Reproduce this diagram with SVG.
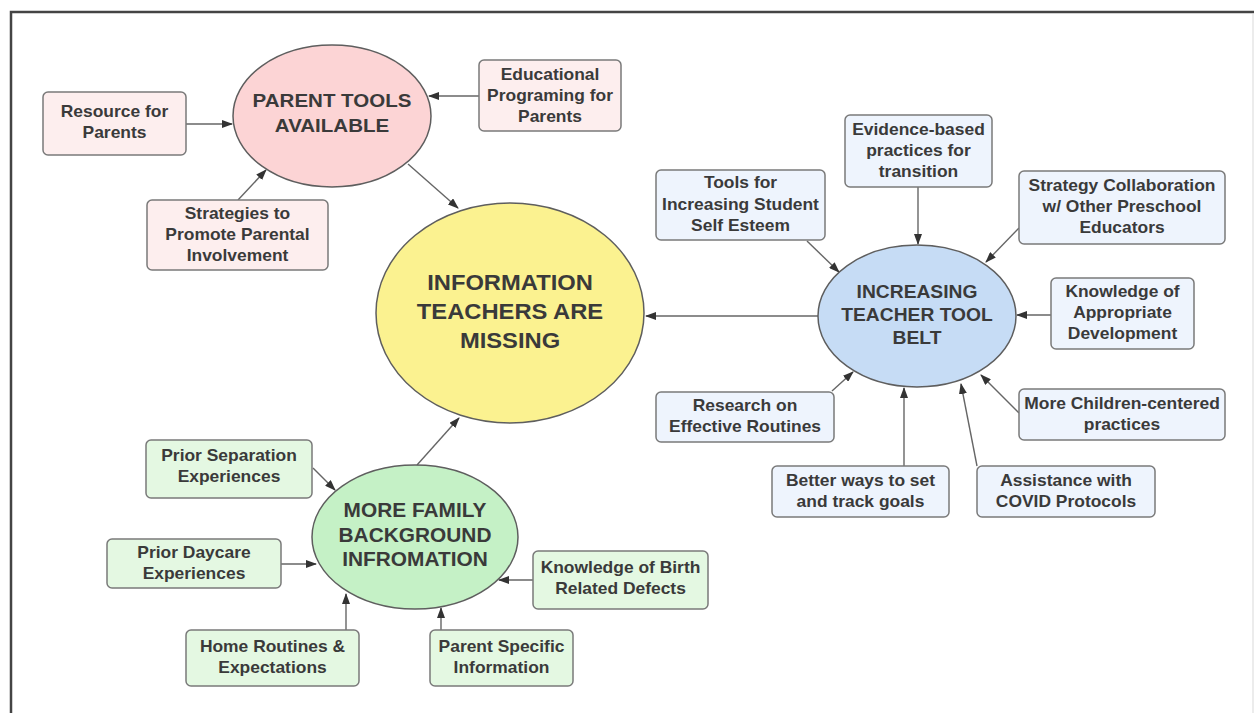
<svg xmlns="http://www.w3.org/2000/svg" width="1254" height="713" viewBox="0 0 1254 713">
<defs>
<marker id="ah" markerUnits="userSpaceOnUse" markerWidth="11" markerHeight="8" refX="10" refY="4" orient="auto"><path d="M0,0 L11,4 L0,8 z" fill="#333"/></marker>
<style>
.t{font-family:"Liberation Sans",Arial,sans-serif;font-weight:bold;fill:#3a3a3a;text-anchor:middle}
.b{font-size:16px}
.box{stroke:#7a7a7a;stroke-width:1.5}
.ell{stroke:#5e5e5e;stroke-width:1.5}
.pk{fill:#fdeeee}.bl{fill:#eef4fd}.gr{fill:#e4f8e2}
.c line{stroke:#666;stroke-width:1.4;marker-end:url(#ah)}
</style>
</defs>
<rect width="1254" height="713" fill="#fff"/>
<path d="M11,713 V12 H1254" fill="none" stroke="#444" stroke-width="2.5"/>
<line x1="1253" y1="14" x2="1253" y2="713" stroke="#e6e6e6" stroke-width="1.5"/>

<g class="c" id="connectors">
<line x1="186" y1="124" x2="232" y2="124"/>
<line x1="479" y1="96" x2="429" y2="96"/>
<line x1="238" y1="200" x2="266" y2="170"/>
<line x1="408" y1="164" x2="458" y2="208"/>
<line x1="807" y1="241" x2="839" y2="272"/>
<line x1="918" y1="187" x2="918" y2="244"/>
<line x1="1019" y1="228" x2="986" y2="262"/>
<line x1="1051" y1="315" x2="1017" y2="315"/>
<line x1="1019" y1="413" x2="981" y2="375"/>
<line x1="977" y1="466" x2="961" y2="384"/>
<line x1="904" y1="466" x2="904" y2="388"/>
<line x1="832" y1="391" x2="853" y2="372"/>
<line x1="818" y1="316" x2="646" y2="316"/>
<line x1="313" y1="468" x2="335" y2="490"/>
<line x1="281" y1="564" x2="316" y2="564"/>
<line x1="533" y1="580" x2="499" y2="580"/>
<line x1="346" y1="630" x2="346" y2="594"/>
<line x1="441" y1="630" x2="441" y2="608"/>
<line x1="417" y1="465" x2="459" y2="418"/>
</g>

<g id="parent-tools">
<ellipse class="ell" cx="332" cy="116" rx="99" ry="71" fill="#fcd4d5"/>
<text class="t" font-size="19" transform="translate(332 0) scale(1.08 1)" y="107">PARENT TOOLS</text>
<text class="t" font-size="19" transform="translate(332 0) scale(1.08 1)" y="132">AVAILABLE</text>
</g>
<g id="resource-parents">
<rect class="box pk" x="43" y="92" width="143" height="63" rx="5"/>
<text class="t b" transform="translate(114.5 0) scale(1.09 1)" y="117.5">Resource for</text>
<text class="t b" transform="translate(114.5 0) scale(1.09 1)" y="138.5">Parents</text>
</g>
<g id="educational-programing">
<rect class="box pk" x="479" y="60" width="142" height="71" rx="5"/>
<text class="t b" transform="translate(550 0) scale(1.09 1)" y="80.5">Educational</text>
<text class="t b" transform="translate(550 0) scale(1.09 1)" y="101.5">Programing for</text>
<text class="t b" transform="translate(550 0) scale(1.09 1)" y="122.5">Parents</text>
</g>
<g id="strategies-parental">
<rect class="box pk" x="147" y="200" width="181" height="70" rx="5"/>
<text class="t b" transform="translate(237.5 0) scale(1.09 1)" y="219.5">Strategies to</text>
<text class="t b" transform="translate(237.5 0) scale(1.09 1)" y="240.5">Promote Parental</text>
<text class="t b" transform="translate(237.5 0) scale(1.09 1)" y="261.5">Involvement</text>
</g>

<g id="info-missing">
<ellipse class="ell" cx="510" cy="313" rx="134" ry="110" fill="#fbf290"/>
<text class="t" font-size="22" transform="translate(510 0) scale(1.08 1)" y="290">INFORMATION</text>
<text class="t" font-size="22" transform="translate(510 0) scale(1.08 1)" y="319">TEACHERS ARE</text>
<text class="t" font-size="22" transform="translate(510 0) scale(1.08 1)" y="348">MISSING</text>
</g>

<g id="teacher-tool-belt">
<ellipse class="ell" cx="917" cy="316" rx="99" ry="71" fill="#c6dcf5"/>
<text class="t" font-size="18" transform="translate(917 0) scale(1.07 1)" y="298.5">INCREASING</text>
<text class="t" font-size="18" transform="translate(917 0) scale(1.07 1)" y="321.5">TEACHER TOOL</text>
<text class="t" font-size="18" transform="translate(917 0) scale(1.07 1)" y="344.5">BELT</text>
</g>
<g id="tools-self-esteem">
<rect class="box bl" x="656" y="170" width="169" height="70" rx="5"/>
<text class="t b" transform="translate(740.5 0) scale(1.09 1)" y="188.5">Tools for</text>
<text class="t b" transform="translate(740.5 0) scale(1.09 1)" y="210.5">Increasing Student</text>
<text class="t b" transform="translate(740.5 0) scale(1.09 1)" y="231.5">Self Esteem</text>
</g>
<g id="evidence-based">
<rect class="box bl" x="845" y="115" width="147" height="72" rx="5"/>
<text class="t b" transform="translate(918.5 0) scale(1.09 1)" y="135.5">Evidence-based</text>
<text class="t b" transform="translate(918.5 0) scale(1.09 1)" y="156.5">practices for</text>
<text class="t b" transform="translate(918.5 0) scale(1.09 1)" y="177.5">transition</text>
</g>
<g id="strategy-collaboration">
<rect class="box bl" x="1019" y="171" width="206" height="73" rx="5"/>
<text class="t b" transform="translate(1122 0) scale(1.09 1)" y="191.5">Strategy Collaboration</text>
<text class="t b" transform="translate(1122 0) scale(1.09 1)" y="212.5">w/ Other Preschool</text>
<text class="t b" transform="translate(1122 0) scale(1.09 1)" y="233.5">Educators</text>
</g>
<g id="knowledge-development">
<rect class="box bl" x="1051" y="278" width="143" height="71" rx="5"/>
<text class="t b" transform="translate(1122.5 0) scale(1.09 1)" y="297.5">Knowledge of</text>
<text class="t b" transform="translate(1122.5 0) scale(1.09 1)" y="318.5">Appropriate</text>
<text class="t b" transform="translate(1122.5 0) scale(1.09 1)" y="339.5">Development</text>
</g>
<g id="children-centered">
<rect class="box bl" x="1019" y="389" width="206" height="51" rx="5"/>
<text class="t b" transform="translate(1122 0) scale(1.09 1)" y="409.5">More Children-centered</text>
<text class="t b" transform="translate(1122 0) scale(1.09 1)" y="430.5">practices</text>
</g>
<g id="covid-protocols">
<rect class="box bl" x="977" y="466" width="178" height="51" rx="5"/>
<text class="t b" transform="translate(1066 0) scale(1.09 1)" y="486.5">Assistance with</text>
<text class="t b" transform="translate(1066 0) scale(1.09 1)" y="507.5">COVID Protocols</text>
</g>
<g id="track-goals">
<rect class="box bl" x="772" y="466" width="177" height="51" rx="5"/>
<text class="t b" transform="translate(860.5 0) scale(1.09 1)" y="486.5">Better ways to set</text>
<text class="t b" transform="translate(860.5 0) scale(1.09 1)" y="507.5">and track goals</text>
</g>
<g id="effective-routines">
<rect class="box bl" x="656" y="392" width="178" height="50" rx="5"/>
<text class="t b" transform="translate(745 0) scale(1.09 1)" y="411.5">Research on</text>
<text class="t b" transform="translate(745 0) scale(1.09 1)" y="432.5">Effective Routines</text>
</g>

<g id="family-background">
<ellipse class="ell" cx="415" cy="537" rx="103" ry="72" fill="#c5f1c6"/>
<text class="t" font-size="19.5" transform="translate(415 0) scale(1.07 1)" y="517">MORE FAMILY</text>
<text class="t" font-size="19.5" transform="translate(415 0) scale(1.07 1)" y="542">BACKGROUND</text>
<text class="t" font-size="19.5" transform="translate(415 0) scale(1.07 1)" y="566">INFROMATION</text>
</g>
<g id="prior-separation">
<rect class="box gr" x="146" y="440" width="166" height="58" rx="5"/>
<text class="t b" transform="translate(229 0) scale(1.09 1)" y="461.5">Prior Separation</text>
<text class="t b" transform="translate(229 0) scale(1.09 1)" y="482.5">Experiences</text>
</g>
<g id="prior-daycare">
<rect class="box gr" x="107" y="539" width="174" height="49" rx="5"/>
<text class="t b" transform="translate(194 0) scale(1.09 1)" y="558.5">Prior Daycare</text>
<text class="t b" transform="translate(194 0) scale(1.09 1)" y="579.5">Experiences</text>
</g>
<g id="birth-defects">
<rect class="box gr" x="533" y="551" width="175" height="58" rx="5"/>
<text class="t b" transform="translate(620.5 0) scale(1.09 1)" y="573.5">Knowledge of Birth</text>
<text class="t b" transform="translate(620.5 0) scale(1.09 1)" y="594.5">Related Defects</text>
</g>
<g id="home-routines">
<rect class="box gr" x="186" y="630" width="173" height="56" rx="5"/>
<text class="t b" transform="translate(272.5 0) scale(1.09 1)" y="652.5">Home Routines &amp;</text>
<text class="t b" transform="translate(272.5 0) scale(1.09 1)" y="673.5">Expectations</text>
</g>
<g id="parent-specific">
<rect class="box gr" x="430" y="630" width="143" height="56" rx="5"/>
<text class="t b" transform="translate(501.5 0) scale(1.09 1)" y="652.5">Parent Specific</text>
<text class="t b" transform="translate(501.5 0) scale(1.09 1)" y="673.5">Information</text>
</g>
</svg>
